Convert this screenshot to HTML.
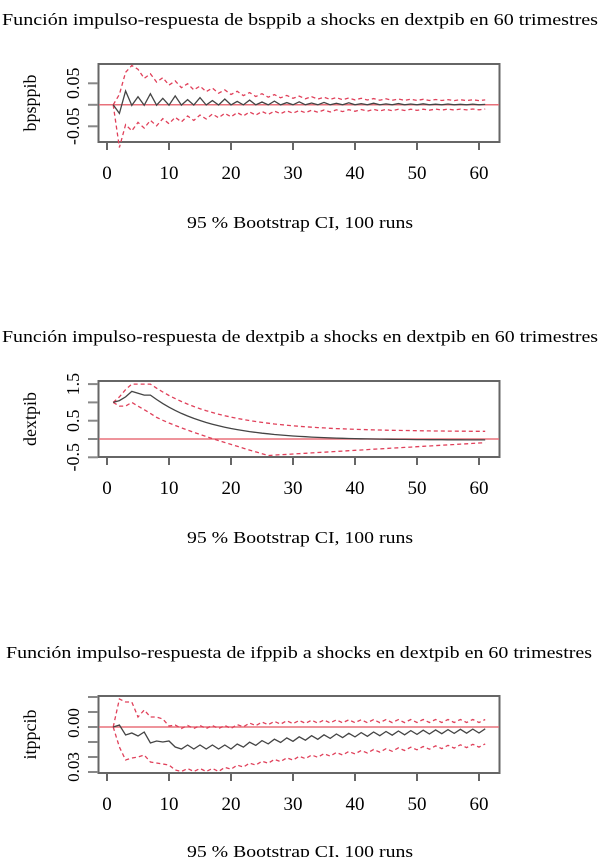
<!DOCTYPE html>
<html><head><meta charset="utf-8"><style>
body{margin:0;background:#fff;}
svg{display:block;font-family:"Liberation Serif",serif;}
</style></head><body>
<svg id="s" width="600" height="857" xmlns="http://www.w3.org/2000/svg">
<g font-size="17" fill="#000">
<text x="2" y="25" textLength="596" lengthAdjust="spacingAndGlyphs">Función impulso-respuesta de bsppib a shocks en dextpib en 60 trimestres</text>
<text x="187" y="228" textLength="226" lengthAdjust="spacingAndGlyphs">95 % Bootstrap CI, 100 runs</text>
<text x="2" y="342" textLength="596" lengthAdjust="spacingAndGlyphs">Función impulso-respuesta de dextpib a shocks en dextpib en 60 trimestres</text>
<text x="187" y="543" textLength="226" lengthAdjust="spacingAndGlyphs">95 % Bootstrap CI, 100 runs</text>
<text x="6" y="658" textLength="586" lengthAdjust="spacingAndGlyphs">Función impulso-respuesta de ifppib a shocks en dextpib en 60 trimestres</text>
<text x="187" y="857" textLength="226" lengthAdjust="spacingAndGlyphs">95 % Bootstrap CI, 100 runs</text>
</g>
<g id="g"></g>
</svg>
<script>
var g=document.getElementById('g'),h='';
function X(t){return 107+t*6.2;}
function plot(top,bot,zeroY,scale,yticks,ylab,fs,c,u,l){
 h+='<rect x="98.5" y="'+top+'" width="401" height="'+(bot-top)+'" fill="none" stroke="#666" stroke-width="2"/>';
 [0,10,20,30,40,50,60].forEach(function(t){var x=X(t);h+='<line x1="'+x+'" y1="'+bot+'" x2="'+x+'" y2="'+(bot+8)+'" stroke="#666" stroke-width="2"/><text x="'+x+'" y="'+(bot+37)+'" font-size="19" text-anchor="middle">'+t+'</text>';});
 yticks.forEach(function(p){var y=zeroY-p[0]*scale;h+='<line x1="88" y1="'+y+'" x2="98" y2="'+y+'" stroke="#888" stroke-width="2"/>';if(p[1])h+='<text transform="translate(79,'+(y+(p[2]||0))+') rotate(-90)" font-size="'+fs+'" text-anchor="middle">'+p[1]+'</text>';});
 h+='<text transform="translate(36,'+((top+bot)/2)+') rotate(-90)" font-size="18" text-anchor="middle">'+ylab+'</text>';
 h+='<line x1="99" y1="'+zeroY+'" x2="499" y2="'+zeroY+'" stroke="#e8707a" stroke-width="1.5"/>';
 function path(f,st,da){var d='';for(var t=1;t<=61;t++){d+=(t==1?'M':'L')+X(t).toFixed(1)+','+(zeroY-f(t)*scale).toFixed(1);}h+='<path d="'+d+'" fill="none" stroke="'+st+'" stroke-width="1.3"'+(da?' stroke-dasharray="4,3"':'')+'/>';}
 path(u,'#e0405a',1);path(l,'#e0405a',1);path(c,'#444',0);
}
plot(64,142,104.8,430,[[0.05,'0.05'],[0,''],[-0.05,'-0.05']],'bpsppib',18,
 function(t){if(t==1)return 0;if(t==2)return -0.02;var a=0.028*Math.exp(-(t-3)/18);return 0.008*Math.exp(-t/20)+a*(t%2?0.5:-0.3)+(t%4==3?a*0.4:0);},
 function(t){if(t==1)return 0;var env=t<=4?0.1*(t-1)/3:0.01+0.07*Math.exp(-(t-4)/12);return env+0.01*Math.exp(-t/25)*((t%2)?1:-1);},
 function(t){if(t==1)return 0;var env=t<=2?-0.09:-(0.01+0.045*Math.exp(-(t-3)/14));return env+0.01*Math.exp(-t/25)*((t%2)?1:-1);});
plot(381,457,439,36.6,[[1.5,'1.5'],[1,''],[0.5,'0.5'],[0,''],[-0.5,'-0.5']],'dextpib',18,
 function(t){var v=[0,1.0,1.05,1.15,1.3,1.25,1.2,1.2];if(t<=7)return v[t];return 1.2*Math.exp(-(t-7)/9.5)-0.03*(1-Math.exp(-(t-7)/15));},
 function(t){var v=[0,1.0,1.15,1.35,1.5,1.5,1.5,1.5];if(t<=7)return v[t];return 0.2+1.3*Math.exp(-(t-7)/11);},
 function(t){var v=[0,1.0,0.9,0.9,1.0,0.9,0.8,0.7];if(t<=7)return v[t];if(t<=26){return 0.7-1.15*Math.pow((t-7)/19,0.8);}return -0.45+0.35*(t-26)/35;});
plot(696,773,727,1000,[[0.03,''],[0.015,''],[0,'0.00',-4],[-0.015,''],[-0.03,'0.03',10],[-0.045,'']],'itppcib',17,
 function(t){var v=[0,0,0.002,-0.008,-0.006,-0.009,-0.005,-0.016,-0.014,-0.015,-0.014,-0.02];if(t<=11)return v[t];var b=t<=20?-0.02:-0.02+0.018*(1-Math.exp(-(t-20)/18));return b+0.002*((t%2)?1:-1);},
 function(t){var v=[0,0,0.028,0.025,0.025,0.01,0.017,0.01,0.01,0.008,0.001,0.002];if(t<=11)return v[t];var b=t<=20?0.0:0.006*(1-Math.exp(-(t-20)/6));return b+0.0015*((t%2)?1:-1);},
 function(t){var v=[0,0,-0.02,-0.033,-0.031,-0.03,-0.028,-0.035,-0.036,-0.037,-0.038,-0.043];if(t<=11)return v[t];var b=t<=18?-0.043:-0.043+0.03*(1-Math.exp(-(t-18)/25));return b+0.0015*((t%2)?1:-1);});
g.innerHTML=h;
</script>
</body></html>
